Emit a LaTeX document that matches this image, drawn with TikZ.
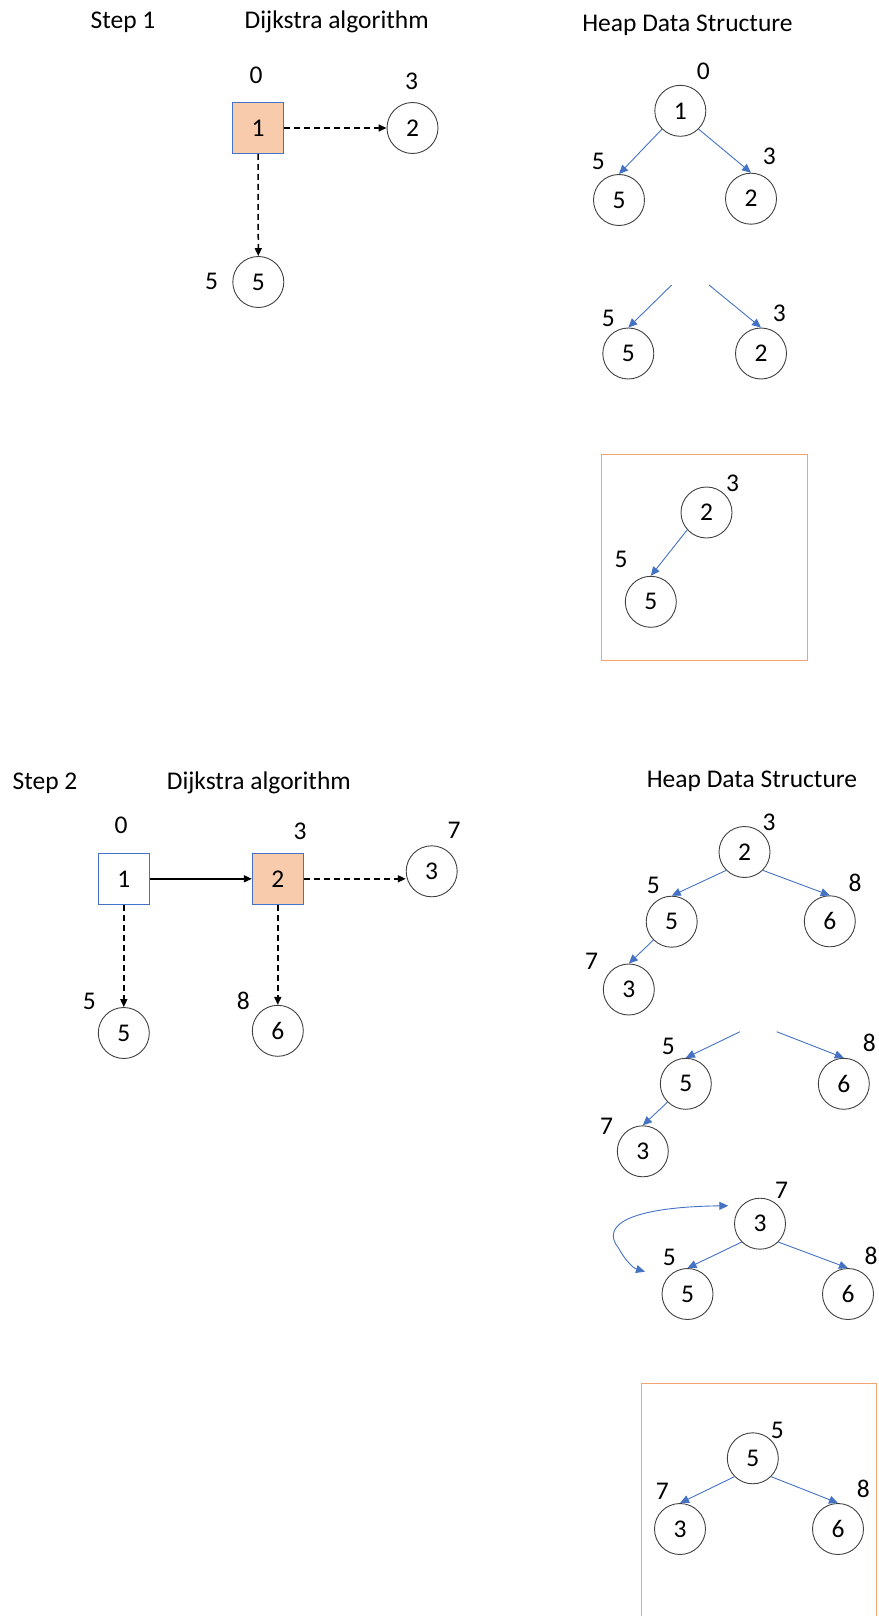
\documentclass[tikz,border=0pt]{standalone}
\usepackage{fontspec}
\setmainfont{Carlito}
\usetikzlibrary{arrows.meta}

\definecolor{ringgray}{RGB}{64,64,64}
\definecolor{edgeblue}{RGB}{68,114,196}
\definecolor{peach}{RGB}{248,203,173}
\definecolor{boxorange}{RGB}{244,164,110}

\tikzset{
  txt/.style={inner sep=0pt, font=\fontsize{25.5}{30}\selectfont},
  vtx/.style={txt, circle, draw=ringgray, line width=0.9pt, minimum size=51pt},
  sqnode/.style={txt, rectangle, draw=edgeblue, line width=0.9pt, minimum size=51pt},
  curnode/.style={sqnode, fill=peach},
  dist/.style={txt},
  title/.style={txt, anchor=base},
  relax/.style={-{Triangle[length=8pt,width=7pt]}, line width=1.5pt, black},
  relaxdash/.style={relax, dash pattern=on 6pt off 4pt},
  heapedge/.style={-{Triangle[length=9pt,width=8pt]}, edgeblue, line width=0.9pt},
  frame/.style={draw=boxorange, line width=1pt}
}

\begin{document}
\begin{tikzpicture}[x=1pt,y=-1pt]
\useasboundingbox (0,0) rectangle (878,1616);

% ---------------- Step 1 ----------------
\node[title] (s1) at (123,28.3) {Step 1};
\node[title] (s1d) at (336.7,28.3) {Dijkstra algorithm};
\node[title] (s1h) at (687.5,31.7) {Heap Data Structure};

% graph
\node[curnode] (a1) at (258,128) {1};
\node[vtx] (a2) at (412.5,128) {2};
\node[vtx] (a5) at (258.3,282) {5};
\node[dist] (da1) at (256,75) {0};
\node[dist] (da2) at (411.7,81.7) {3};
\node[dist] (da5) at (211.7,281.7) {5};
\draw[relaxdash] (a1.east) -- (a2.west);
\draw[relaxdash] (a1.south) -- (a5.north);

% heap: initial
\node[vtx] (h1r) at (680.3,110.8) {1};
\node[vtx] (h1l) at (619,200) {5};
\node[vtx] (h1g) at (751,198.7) {2};
\node[dist] (dh1r) at (703.3,71) {0};
\node[dist] (dh1l) at (598.3,161.7) {5};
\node[dist] (dh1g) at (769.3,156.7) {3};
\draw[heapedge] (h1r.225) -- (h1l.north);
\draw[heapedge] (h1r.315) -- (h1g.north);

% heap: root removed
\coordinate (h2a) at (671.7,285);
\coordinate (h2b) at (709,285);
\node[vtx] (h2l) at (628.3,353.5) {5};
\node[vtx] (h2g) at (761,353.5) {2};
\node[dist] (dh2l) at (608.3,318.3) {5};
\node[dist] (dh2g) at (779.3,313.3) {3};
\draw[heapedge] (h2a) -- (h2l.north);
\draw[heapedge] (h2b) -- (h2g.north);

% heap: result
\draw[frame] (601.7,454.7) rectangle (807.3,660);
\node[vtx] (h3r) at (706.5,512.5) {2};
\node[vtx] (h3l) at (650.8,601.8) {5};
\node[dist] (dh3r) at (732.7,483.3) {3};
\node[dist] (dh3l) at (621,559.3) {5};
\draw[heapedge] (h3r.222) -- (h3l.north);

% ---------------- Step 2 ----------------
\node[title] (s2) at (45,789) {Step 2};
\node[title] (s2d) at (258.8,789) {Dijkstra algorithm};
\node[title] (s2h) at (752,787.3) {Heap Data Structure};

% graph
\node[sqnode] (b1) at (123.8,878.8) {1};
\node[curnode] (b2) at (277.8,878.8) {2};
\node[vtx] (b3) at (431.7,871.3) {3};
\node[vtx] (b5) at (123.8,1033) {5};
\node[vtx] (b6) at (277.8,1030.8) {6};
\node[dist] (db1) at (121,825) {0};
\node[dist] (db2) at (300,831) {3};
\node[dist] (db3) at (454,830.7) {7};
\node[dist] (db5) at (89.3,1001.7) {5};
\node[dist] (db6) at (243.3,1000.7) {8};
\draw[relax] (b1.east) -- (b2.west);
\draw[relaxdash] (b2.east) -- (b2.east -| b3.west);
\draw[relaxdash] (b1.south) -- (b5.north);
\draw[relaxdash] (b2.south) -- (b6.north);

% heap: after insertions
\node[vtx] (k1r) at (744.5,852) {2};
\node[vtx] (k1l) at (671.7,921.7) {5};
\node[vtx] (k1g) at (829.8,921.3) {6};
\node[vtx] (k1t) at (628.8,989.5) {3};
\node[dist] (dk1r) at (769,822.3) {3};
\node[dist] (dk1l) at (653.3,885) {5};
\node[dist] (dk1g) at (855,882.7) {8};
\node[dist] (dk1t) at (591.5,961.5) {7};
\draw[heapedge] (k1r.225) -- (k1l.north);
\draw[heapedge] (k1r.315) -- (k1g.north);
\draw[heapedge] (k1l.225) -- (k1t.north);

% heap: root removed
\coordinate (k2a) at (740,1031.7);
\coordinate (k2b) at (776.7,1031.7);
\node[vtx] (k2l) at (685.8,1083.8) {5};
\node[vtx] (k2g) at (843.8,1083.8) {6};
\node[vtx] (k2t) at (642.8,1151.3) {3};
\node[dist] (dk2l) at (668.3,1046.7) {5};
\node[dist] (dk2g) at (869.3,1043.3) {8};
\node[dist] (dk2t) at (606.7,1126) {7};
\draw[heapedge] (k2a) -- (k2l.north);
\draw[heapedge] (k2b) -- (k2g.north);
\draw[heapedge] (k2l.225) -- (k2t.north);

% heap: last element moved to the root, then swapped down
\node[vtx] (k3r) at (760,1223.7) {3};
\node[vtx] (k3l) at (687.5,1294) {5};
\node[vtx] (k3g) at (848,1294) {6};
\node[dist] (dk3r) at (781.7,1190) {7};
\node[dist] (dk3l) at (669.3,1257.3) {5};
\node[dist] (dk3g) at (871,1256) {8};
\draw[heapedge] (k3r.225) -- (k3l.north);
\draw[heapedge] (k3r.315) -- (k3g.north);
\coordinate (swapa) at (728.3,1205.7);
\coordinate (swapb) at (645,1271.7);
\draw[heapedge, {Triangle[length=9pt,width=8pt]}-{Triangle[length=9pt,width=8pt]}]
  (swapa) .. controls (630,1207) and (600,1225) .. (618.5,1248)
          .. controls (625,1260) and (633,1268) .. (swapb);

% heap: result
\draw[frame] (641.7,1617) -- (641.7,1383.3) -- (876.5,1383.3) -- (876.5,1617);
\node[vtx] (k4r) at (752.8,1458.3) {5};
\node[vtx] (k4l) at (680,1529) {3};
\node[vtx] (k4g) at (838,1529) {6};
\node[dist] (dk4r) at (777.3,1430) {5};
\node[dist] (dk4l) at (662.3,1491.7) {7};
\node[dist] (dk4g) at (863.3,1489.3) {8};
\draw[heapedge] (k4r.225) -- (k4l.north);
\draw[heapedge] (k4r.315) -- (k4g.north);
\end{tikzpicture}
\end{document}
